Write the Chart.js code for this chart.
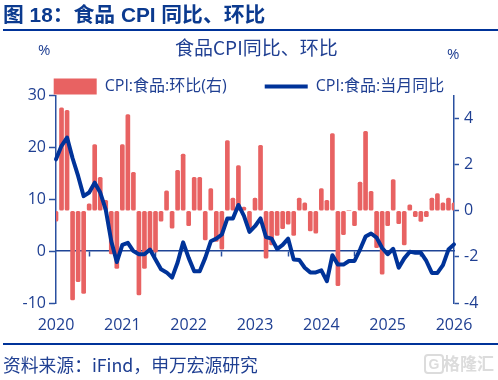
<!DOCTYPE html>
<html>
<head>
<meta charset="utf-8">
<script src="https://cdn.jsdelivr.net/npm/chart.js@4"></script>
<style>
  html, body { margin: 0; padding: 0; background: #fff; }
  #wrap { position: relative; width: 498px; height: 380px; overflow: hidden; font-family: "Noto Sans CJK SC", sans-serif; color: #1f3f92; }
  #wrap div { position: absolute; white-space: nowrap; line-height: 1; }
  canvas { position: absolute; left: 0; top: 0; }
  #head { left: 3px; top: 5px; font: bold 20.8px "Liberation Sans", "Noto Sans CJK SC", sans-serif; color: #0b3a8f; }
  .rule { left: 3px; width: 495px; height: 2px; background: #003399; }
  #title { left: 175px; top: 37px; font-size: 19px; }
  #unitL { left: 38px; top: 42px; font: 15px "Open Sans", sans-serif; }
  #unitR { left: 447px; top: 46px; font: 15px "Open Sans", sans-serif; }
  #source { left: 3px; top: 356px; font-size: 17.8px; }
  #logo { left: 424px; top: 354px; width: 16px; height: 16px; border: 2px solid #dcdcdc; border-radius: 4px; font: bold 14px "Liberation Sans", sans-serif; color: #dcdcdc; text-align: center; line-height: 16px !important; }
  #mark { left: 443px; top: 354px; font-size: 17px; font-weight: bold; color: #dcdcdc; }
</style>
</head>
<body>
<div id="wrap">
  <canvas id="chart" width="498" height="380"></canvas>
  <div id="head">图 18&#xFF1A;食品 CPI 同比、环比</div>
  <div class="rule" style="top:29px"></div>
  <div id="title">食品CPI同比、环比</div>
  <div id="unitL">%</div>
  <div id="unitR">%</div>
  <div class="rule" style="top:343px"></div>
  <div id="source">资料来源&#xFF1A;iFind&#xFF0C;申万宏源研究</div>
  <div id="logo">G</div>
  <div id="mark">格隆汇</div>
</div>
<script>
const months = [
  '2020-01', '2020-02', '2020-03', '2020-04', '2020-05', '2020-06', '2020-07', '2020-08', '2020-09', '2020-10', '2020-11', '2020-12',
  '2021-01', '2021-02', '2021-03', '2021-04', '2021-05', '2021-06', '2021-07', '2021-08', '2021-09', '2021-10', '2021-11', '2021-12',
  '2022-01', '2022-02', '2022-03', '2022-04', '2022-05', '2022-06', '2022-07', '2022-08', '2022-09', '2022-10', '2022-11', '2022-12',
  '2023-01', '2023-02', '2023-03', '2023-04', '2023-05', '2023-06', '2023-07', '2023-08', '2023-09', '2023-10', '2023-11', '2023-12',
  '2024-01', '2024-02', '2024-03', '2024-04', '2024-05', '2024-06', '2024-07', '2024-08', '2024-09', '2024-10', '2024-11', '2024-12',
  '2025-01', '2025-02', '2025-03', '2025-04', '2025-05', '2025-06', '2025-07', '2025-08', '2025-09', '2025-10', '2025-11', '2025-12',
  '2026-01',
];

// 环比, right axis
const momValues = [
  -0.45, 4.46, 4.36, -3.87, -3.07, -3.58, 0.3, 2.87, 1.45, 0.45, -1.87, -2.5,
  2.87, 4.17, 1.67, -3.65, -2.5, -1.8, -1.8, -0.45, 0.87, -0.75, 1.75, 2.46,
  -0.65, 1.45, 1.45, -1.26, 0.96, -1.33, -1.67, 3.04, 0.55, 1.96, 0.16, -0.9,
  0.55, 2.84, -2.06, -1.48, -1.07, -0.78, -0.58, -1.07, 0.55, 0.35, -0.87, -0.97,
  0.96, 0.45, 3.35, -3.25, -1.04, 0, -0.65, 1.25, 3.45, 0.84, -1.6, -2.75,
  -0.65, 1.35, -0.56, -1.48, 0.26, -0.26, -0.46, -0.26, 0.55, 0.75, 0.35, 0.55,
  0.35,
];

// 当月同比, left axis
const yoyValues = [
  17.7, 20.3, 21.9, 17.9, 14.5, 10.6, 11.3, 13.2, 11.3, 8.0, 1.9, -2.1,
  1.2, 1.6, 0, -0.6, -0.6, 0.3, -1.6, -3.5, -4.1, -5.1, -2.2, 1.7,
  -1.3, -3.9, -3.9, -1.3, 1.9, 2.4, 3.2, 6.3, 6.3, 8.9, 6.8, 3.7,
  4.8, 6.3, 2.7, 2.4, 0.4, 1.2, 2.4, -1.6, -1.7, -3.2, -4.1, -4.1,
  -3.7, -5.8, -0.8, -2.6, -2.6, -1.9, -1.9, 0.3, 2.8, 3.4, 2.6, 0.6,
  -0.6, 0.45, -3.2, -1.4, -0.1, -0.3, -0.3, -1.9, -4.2, -4.2, -2.7, 0.3,
  1.3,
];

const axisColor = '#2a50a0';
const textColor = '#1f3f92';
const barColor = '#e86262';
const lineColor = '#003399';
const tickFont = { family: '"Open Sans", sans-serif', size: 16 };

const yearOnly = (axis) => {
  axis.ticks = axis.ticks.filter((t) => months[t.value].endsWith('-01'));
};

// legend row sits right on top of the plot in the reference
const legendNudge = {
  id: 'legendNudge',
  afterLayout(chart) {
    chart.legend.top += 9;
  },
};

new Chart(document.getElementById('chart'), {
  plugins: [legendNudge],
  data: {
    labels: months,
    datasets: [
      {
        type: 'bar',
        label: 'CPI:食品:环比(右)',
        data: momValues,
        yAxisID: 'y1',
        xAxisID: 'x',
        backgroundColor: barColor,
        barThickness: 4,
        borderRadius: 1.5,
        borderSkipped: false,
        order: 2,
      },
      {
        type: 'line',
        label: 'CPI:食品:当月同比',
        data: yoyValues,
        yAxisID: 'y',
        xAxisID: 'x',
        borderColor: lineColor,
        borderWidth: 4,
        borderJoinStyle: 'round',
        borderCapStyle: 'round',
        pointRadius: 0,
        tension: 0,
        clip: 4,
        order: 1,
      },
    ],
  },
  options: {
    responsive: false,
    animation: false,
    layout: { padding: { top: 31.5 } },
    scales: {
      x: {
        type: 'category',
        position: { y: 0 },
        offset: false,
        afterBuildTicks: yearOnly,
        ticks: { display: false, autoSkip: false },
        grid: { drawOnChartArea: false, color: axisColor, tickLength: 5, tickWidth: 1.5 },
        border: { color: '#1f4496', width: 1.5 },
      },
      xBottom: {
        type: 'category',
        axis: 'x',
        position: 'bottom',
        labels: months,
        offset: false,
        afterBuildTicks: yearOnly,
        afterFit: (s) => { s.height = 77; },
        ticks: {
          autoSkip: false,
          maxRotation: 0,
          padding: 5,
          color: textColor,
          font: tickFont,
          callback(value) { return months[value].slice(0, 4); },
        },
        grid: { display: false },
        border: { display: false },
      },
      y: {
        position: 'left',
        min: -10,
        max: 30,
        afterFit: (s) => { s.width = 56; },
        ticks: { stepSize: 10, color: textColor, font: tickFont, padding: 3 },
        grid: { drawOnChartArea: false, color: axisColor, tickLength: 7, tickWidth: 1.5 },
        border: { color: axisColor, width: 1.5 },
      },
      y1: {
        position: 'right',
        min: -4,
        max: 5,
        afterBuildTicks: (axis) => { axis.ticks = axis.ticks.filter((t) => t.value <= 4); },
        afterFit: (s) => { s.width = 44; },
        ticks: { stepSize: 2, color: textColor, font: tickFont, padding: 5 },
        grid: { drawOnChartArea: false, color: axisColor, tickLength: 5, tickWidth: 1.5 },
        border: { color: axisColor, width: 1.5 },
      },
    },
    plugins: {
      tooltip: { enabled: false },
      legend: {
        position: 'top',
        labels: {
          color: textColor,
          font: { family: '"Open Sans", "Noto Sans CJK SC", sans-serif', size: 16 },
          padding: 38,
          usePointStyle: true,
          pointStyleWidth: 43,
          generateLabels: (chart) => [
            { text: chart.data.datasets[0].label, fillStyle: barColor, strokeStyle: barColor, lineWidth: 0, pointStyle: 'rect', datasetIndex: 0, fontColor: textColor },
            { text: chart.data.datasets[1].label, fillStyle: lineColor, strokeStyle: lineColor, lineWidth: 4, pointStyle: 'line', datasetIndex: 1, fontColor: textColor },
          ],
        },
      },
    },
  },
});
</script>
</body>
</html>
